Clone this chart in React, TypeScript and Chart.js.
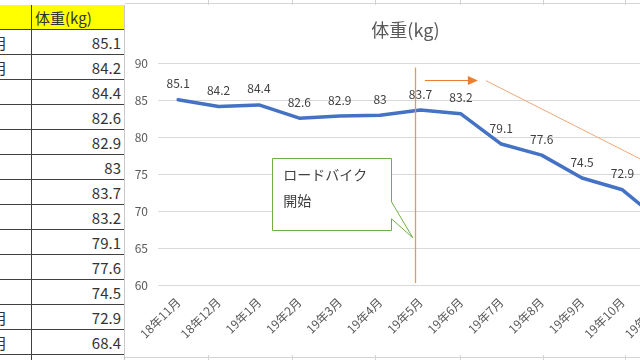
import React, { useEffect, useRef } from "react";
import { Chart, registerables } from "chart.js";

Chart.register(...registerables);

// ---- data ----
const months = ["18年11月", "18年12月", "19年1月", "19年2月", "19年3月", "19年4月", "19年5月", "19年6月", "19年7月", "19年8月", "19年9月", "19年10月", "19年11月"];
const weights = [85.1, 84.2, 84.4, 82.6, 82.9, 83, 83.7, 83.2, 79.1, 77.6, 74.5, 72.9, 68.4];
const yMin = 60;
const yMax = 90;
const yStep = 5;
const chartTitle = "体重(kg)";
const tableHeader = "体重(kg)";
const calloutLines = ["ロードバイク", "開始"];

const FONT = "'Noto Sans CJK JP', 'Noto Sans', sans-serif";
const TEXT = "#595959";

// annotation geometry in (category index, value) units
const startLine = { i: 5.864, v1: 89.46, v2: 60.27 };
const arrow = { i1: 6.11, i2: 7.42, v: 87.83 };
const trend = { i1: 7.62, v1: 87.69, i2: 12.5, v2: 74.14 };
const callout = { i1: 2.32, i2: 5.27, top: 77.25, bottom: 67.48, p1: 71.27, tipI: 5.81, tipV: 66.39, p2: 68.97, textI: 2.6, t1: 74.94, t2: 71.41 };

const annotPlugin = {
  id: "annot",
  afterDraw(chart: any) {
    const ctx = chart.ctx as CanvasRenderingContext2D;
    const xs = chart.scales.x;
    const ys = chart.scales.y;
    const X = (i: number) => xs.getPixelForValue(i);
    const Y = (v: number) => ys.getPixelForValue(v);
    ctx.save();
    // vertical start line
    ctx.strokeStyle = "#E3995C";
    ctx.lineWidth = 1.3;
    ctx.beginPath();
    ctx.moveTo(Math.round(X(startLine.i)) + 0.5, Y(startLine.v1));
    ctx.lineTo(Math.round(X(startLine.i)) + 0.5, Y(startLine.v2));
    ctx.stroke();
    // arrow
    const ax1 = X(arrow.i1), ax2 = X(arrow.i2), ay = Math.round(Y(arrow.v)) + 0.5;
    ctx.strokeStyle = "#ED7D31";
    ctx.fillStyle = "#ED7D31";
    ctx.lineWidth = 1.2;
    ctx.beginPath();
    ctx.moveTo(ax1, ay);
    ctx.lineTo(ax2 - 8, ay);
    ctx.stroke();
    ctx.beginPath();
    ctx.moveTo(ax2, ay);
    ctx.lineTo(ax2 - 10, ay - 4.5);
    ctx.lineTo(ax2 - 10, ay + 4.5);
    ctx.closePath();
    ctx.fill();
    // trend line
    ctx.strokeStyle = "#EDA878";
    ctx.lineWidth = 1;
    ctx.beginPath();
    ctx.moveTo(X(trend.i1), Y(trend.v1));
    ctx.lineTo(X(trend.i2), Y(trend.v2));
    ctx.stroke();
    // callout
    const L = Math.round(X(callout.i1)) + 0.5, R = Math.round(X(callout.i2)) + 0.5;
    const T = Math.round(Y(callout.top)) + 0.5, B = Math.round(Y(callout.bottom)) + 0.5;
    ctx.beginPath();
    ctx.moveTo(L, T);
    ctx.lineTo(R, T);
    ctx.lineTo(R, Y(callout.p1));
    ctx.lineTo(X(callout.tipI), Y(callout.tipV));
    ctx.lineTo(R, Y(callout.p2));
    ctx.lineTo(R, B);
    ctx.lineTo(L, B);
    ctx.closePath();
    ctx.fillStyle = "#ffffff";
    ctx.fill();
    ctx.strokeStyle = "#70AD47";
    ctx.lineWidth = 1;
    ctx.stroke();
    ctx.fillStyle = "#404040";
    ctx.font = `14px ${FONT}`;
    ctx.textAlign = "left";
    ctx.textBaseline = "middle";
    ctx.fillText(calloutLines[0], X(callout.textI), Y(callout.t1));
    ctx.fillText(calloutLines[1], X(callout.textI), Y(callout.t2));
    ctx.restore();
  },
  afterDatasetsDraw(chart: any) {
    const ctx = chart.ctx as CanvasRenderingContext2D;
    const meta = chart.getDatasetMeta(0);
    ctx.save();
    ctx.fillStyle = "#404040";
    ctx.font = `12px ${FONT}`;
    ctx.textAlign = "center";
    ctx.textBaseline = "middle";
    meta.data.forEach((pt: any, k: number) => {
      ctx.fillText(String(weights[k]), pt.x, pt.y - 16);
    });
    ctx.restore();
  },
};

function WeightChart() {
  const ref = useRef<HTMLCanvasElement>(null);
  useEffect(() => {
    if (!ref.current) return;
    const chart = new Chart(ref.current, {
      type: "line",
      data: {
        labels: months,
        datasets: [
          {
            data: weights,
            borderColor: "#4472C4",
            borderWidth: 3.5,
            pointRadius: 0,
            tension: 0,
            borderJoinStyle: "round",
            borderCapStyle: "round",
          } as any,
        ],
      },
      options: {
        animation: false,
        responsive: false,
        layout: { padding: { top: 0, right: 5, left: 0, bottom: 0 } },
        plugins: {
          legend: { display: false },
          tooltip: { enabled: false },
          title: {
            display: true,
            text: chartTitle,
            color: TEXT,
            font: { size: 18, family: FONT, weight: "normal" },
            padding: { top: 14, bottom: 23 },
          },
        },
        scales: {
          x: {
            offset: true,
            grid: { display: false, drawTicks: false },
            border: { display: false },
            ticks: {
              color: TEXT,
              font: { size: 12, family: FONT },
              maxRotation: 45,
              minRotation: 45,
              autoSkip: false,
              padding: 10,
            },
            afterFit: (s: any) => {
              s.height = 70;
            },
          },
          y: {
            min: yMin,
            max: yMax,
            ticks: { stepSize: yStep, color: TEXT, font: { size: 12, family: FONT }, padding: 10 },
            grid: { color: "#D9D9D9", drawTicks: false },
            border: { display: false },
            afterFit: (s: any) => {
              s.width = 30;
            },
          },
        },
      } as any,
      plugins: [annotPlugin],
    });
    return () => chart.destroy();
  }, []);
  return <canvas ref={ref} width={560} height={350} style={{ position: "absolute", left: 128, top: 5, width: 560, height: 350 }} />;
}

export default function App() {
  const rowH = 25;
  const top = 30;
  const sheetCols = [208, 292, 375, 460, 543, 625];
  return (
    <div style={{ position: "absolute", left: 0, top: 0, width: 640, height: 360, overflow: "hidden", background: "#fff", fontFamily: FONT }}>
      {/* sheet grid behind chart */}
      <div style={{ position: "absolute", left: 125, top: 3, width: 515, height: 1, background: "#D4D4D4" }} />
      <div style={{ position: "absolute", left: 125, top: 357, width: 515, height: 1, background: "#D4D4D4" }} />
      {sheetCols.map((x) => (
        <React.Fragment key={x}>
          <div style={{ position: "absolute", left: x, top: 0, width: 1, height: 5, background: "#D4D4D4" }} />
          <div style={{ position: "absolute", left: x, top: 355, width: 1, height: 5, background: "#D4D4D4" }} />
        </React.Fragment>
      ))}
      {/* table */}
      <div style={{ position: "absolute", left: 0, top: 5, width: 125, height: 25, background: "#FFFF00" }} />
      <div style={{ position: "absolute", left: 35, top: 5, height: 25, lineHeight: "25px", fontSize: 15, color: "#333" }}>{tableHeader}</div>
      {months.map((m, k) => (
        <div key={"a" + k} style={{ position: "absolute", left: 0, top: top + k * rowH, width: 31, height: rowH, overflow: "hidden" }}>
          <div style={{ position: "absolute", left: -56, top: 0, lineHeight: rowH + "px", fontSize: 15, color: "#333", whiteSpace: "nowrap" }}>{m}</div>
        </div>
      ))}
      {weights.map((w, k) => (
        <div key={"b" + k} style={{ position: "absolute", left: 33, top: top + k * rowH, width: 88, height: rowH, lineHeight: rowH + "px", fontSize: 15, color: "#333", textAlign: "right" }}>
          {String(w)}
        </div>
      ))}
      {Array.from({ length: weights.length + 1 }).map((_, k) => (
        <div key={"h" + k} style={{ position: "absolute", left: 0, top: top + k * rowH - 1, width: 125, height: 1, background: "#404040" }} />
      ))}
      <div style={{ position: "absolute", left: 31, top: 5, width: 1, height: 355, background: "#404040" }} />
      <div style={{ position: "absolute", left: 124, top: 5, width: 1, height: 355, background: "#C8C8C8" }} />
      {/* chart */}
      <div style={{ position: "absolute", left: 128, top: 5, width: 512, height: 350, background: "#fff" }} />
      <WeightChart />
    </div>
  );
}
